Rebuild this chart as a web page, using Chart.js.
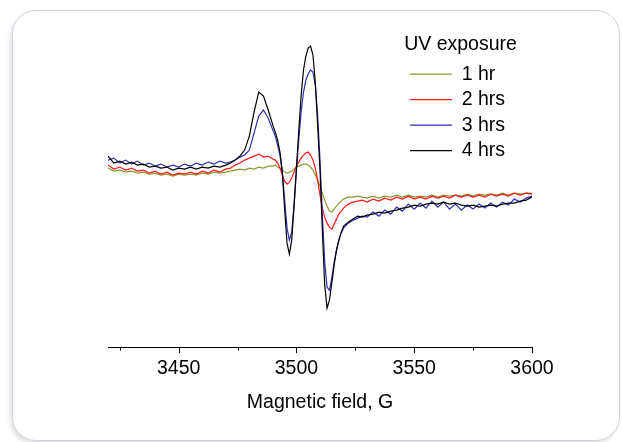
<!DOCTYPE html>
<html>
<head>
<meta charset="utf-8">
<script src="https://cdn.jsdelivr.net/npm/chart.js@4.4.1/dist/chart.umd.min.js"></script>
<style>
    body { margin: 0; background: #fff; }
    #frame {
        position: absolute; left: 12px; top: 10px; width: 606px; height: 429px;
        border: 1.5px solid #c9d6e1; border-radius: 24px;
        box-shadow: -2px 3px 4px rgba(0, 0, 0, 0.12);
    }
    #chart { position: absolute; left: 0; top: 0; }
</style>
</head>
<body>
<div id="frame"></div>
<canvas id="chart" width="622" height="442"></canvas>
<script>
// Magnetic field grid (G)
const field = [
    3420, 3422.5, 3425, 3427.5, 3430, 3432.5, 3435, 3437.5, 3440, 3442.5,
    3445, 3447.5, 3450, 3452.5, 3455, 3457.5, 3460, 3462.5, 3465, 3467.5,
    3470, 3472, 3474, 3476, 3478, 3480, 3482, 3484, 3486, 3488, 3490,
    3491, 3492, 3493, 3494, 3495, 3496, 3497, 3498, 3499, 3500,
    3501, 3502, 3503, 3504, 3505, 3506, 3507, 3508, 3509, 3510,
    3511, 3512, 3513, 3514, 3515, 3516, 3517, 3518, 3519, 3520,
    3522, 3524, 3526, 3528,
    3530, 3532.5, 3535, 3537.5, 3540, 3542.5, 3545, 3547.5, 3550, 3552.5,
    3555, 3557.5, 3560, 3562.5, 3565, 3567.5, 3570, 3572.5, 3575, 3577.5,
    3580, 3582.5, 3585, 3587.5, 3590, 3592.5, 3595, 3597.5, 3600
];

// EPR signal (a.u.) for each exposure time
const hr1 = [
    -3, -6, -5, -7, -6, -8, -7, -9, -8, -10, -9, -11, -9, -10, -9, -10, -8, -9, -7, -8,
    -7, -6, -5, -4, -5, -3, -4, -2, -3, -1, -1,
    0, -2, -3, -5, -7, -8, -7, -6, -4, -2,
    -1, 0, 1, 1, 0, -2, -5, -10, -15, -21,
    -28, -35, -41, -46, -47, -44, -41, -38, -36, -34,
    -32, -32, -31, -32,
    -33, -31, -33, -31, -32, -30, -32, -30, -32, -31,
    -32, -30, -32, -30, -31, -30, -31, -29, -31, -29,
    -30, -29, -30, -28, -30, -28, -29, -28, -28
];
const hr2 = [
    0, -4, -2, -5, -3, -6, -5, -8, -6, -9, -7, -10, -8, -9, -7, -9, -6, -8, -5, -7,
    -4, -3, 0, 2, 5, 7, 9, 11, 8, 9, 6,
    5, 2, -3, -10, -16, -19, -17, -13, -7, -1,
    3, 7, 10, 12, 13, 10, 5, -3, -15, -30,
    -43, -52, -58, -62, -64, -59, -54, -49, -46, -43,
    -39, -37, -36, -35,
    -37, -34, -36, -33, -35, -32, -34, -31, -34, -32,
    -34, -31, -33, -31, -33, -30, -32, -30, -32, -30,
    -32, -29, -31, -29, -31, -28, -30, -28, -29
];
const hr3 = [
    5, 7, 2, 5, 1, 4, 0, 2, -1, 1, -2, 0, -2, 1, -1, 2, 0, 3, 1, 4,
    2, 3, 5, 8, 10, 15, 32, 49, 55, 47, 35,
    29, 20, 10, -7, -35, -63, -75, -67, -40, -5,
    25, 53, 73, 85, 91, 95, 93, 80, 50, 5,
    -50, -97, -122, -125, -113, -97, -85, -75, -68, -63,
    -58, -55, -53, -51,
    -52, -47, -51, -45, -49, -42, -46, -39, -44, -38,
    -43, -36, -42, -37, -44, -39, -45, -40, -44, -39,
    -43, -38, -42, -37, -40, -34, -37, -33, -31
];
const hr4 = [
    9, 2, 4, 1, 3, 0, 1, -2, -1, -3, -2, -5, -3, -4, -2, -4, -2, -3, -1, -2,
    0, 2, 5, 9, 15, 29, 53, 73, 69, 55, 40,
    33, 25, 13, -7, -45, -78, -89, -75, -40, -3,
    35, 70, 95, 109, 117, 119, 110, 83, 40, -5,
    -65, -120, -143, -135, -118, -100, -85, -75, -67, -61,
    -57, -54, -51, -52,
    -50, -49, -47, -48, -46, -45, -43, -42, -40, -41,
    -39, -38, -39, -37, -39, -38, -40, -41, -40, -42,
    -41, -40, -41, -39, -38, -38, -36, -35, -32
];

const seriesNames  = ["1 hr", "2 hrs", "3 hrs", "4 hrs"];
const seriesColors = ["#8e962c", "#ff1a1a", "#2f2fb4", "#000000"];
const seriesValues = [hr1, hr2, hr3, hr4];

// x ticks: every 25 G, labels every 50 G
const tickValues  = [3425, 3450, 3475, 3500, 3525, 3550, 3575, 3600];
const tickLabels  = [3450, 3500, 3550, 3600];

Chart.defaults.font.family = "Arial, 'Liberation Sans', sans-serif";
Chart.defaults.color = "#000";

// major / minor tick marks below the axis line
const axisTicks = {
    id: "axisTicks",
    afterDraw(chart) {
        const sx = chart.scales.x;
        const ctx = chart.ctx;
        const y0 = chart.chartArea.bottom;
        ctx.save();
        ctx.strokeStyle = "#000";
        ctx.lineWidth = 1;
        sx.ticks.forEach(t => {
            const px = Math.round(sx.getPixelForValue(t.value)) + 0.5;
            const len = tickLabels.includes(t.value) ? 6 : 3.5;
            ctx.beginPath();
            ctx.moveTo(px, y0);
            ctx.lineTo(px, y0 + len);
            ctx.stroke();
        });
        ctx.restore();
    }
};

// move the legend to the upper right of the plot
const legendPlace = {
    id: "legendPlace",
    afterLayout(chart) {
        const lg = chart.legend;
        const area = chart.chartArea;
        lg.left = area.right - 128;
        lg.width = 113;
        lg.right = lg.left + lg.width;
        lg.top = area.top + 10;
        lg.bottom = lg.top + lg.height;
    }
};

new Chart(document.getElementById("chart"), {
    type: "line",
    data: {
        datasets: seriesValues.map((vals, i) => ({
            label: seriesNames[i],
            data: field.map((f, j) => ({ x: f, y: vals[j] })),
            borderColor: seriesColors[i],
            backgroundColor: seriesColors[i],
            borderWidth: 1.2,
            pointRadius: 0,
            tension: 0,
            fill: false,
            order: seriesNames.length - i
        }))
    },
    options: {
        responsive: false,
        animation: false,
        layout: { padding: { left: 108, right: 90, top: 25, bottom: 20 } },
        scales: {
            x: {
                type: "linear",
                min: 3420,
                max: 3600,
                afterBuildTicks: (scale) => {
                    scale.ticks = tickValues.map(v => ({ value: v }));
                },
                ticks: {
                    padding: 10,
                    maxRotation: 0,
                    autoSkip: false,
                    font: { size: 19.5 },
                    callback: (v) => tickLabels.includes(v) ? String(v) : ""
                },
                grid: { display: true, drawOnChartArea: false, drawTicks: false },
                border: { display: true, color: "#000", width: 1 },
                title: {
                    display: true,
                    text: "Magnetic field, G",
                    font: { size: 19.5 },
                    padding: { top: 0, bottom: 8 }
                }
            },
            y: {
                display: false,
                min: -182,
                max: 140
            }
        },
        plugins: {
            tooltip: { enabled: false },
            legend: {
                position: "chartArea",
                align: "start",
                title: {
                    display: true,
                    text: "UV exposure",
                    font: { size: 19.5 },
                    padding: 0
                },
                labels: {
                    boxWidth: 42,
                    boxHeight: 0,
                    padding: 6,
                    font: { size: 19.5 },
                    sort: (a, b) => a.datasetIndex - b.datasetIndex
                }
            }
        }
    },
    plugins: [axisTicks, legendPlace]
});
</script>
</body>
</html>
